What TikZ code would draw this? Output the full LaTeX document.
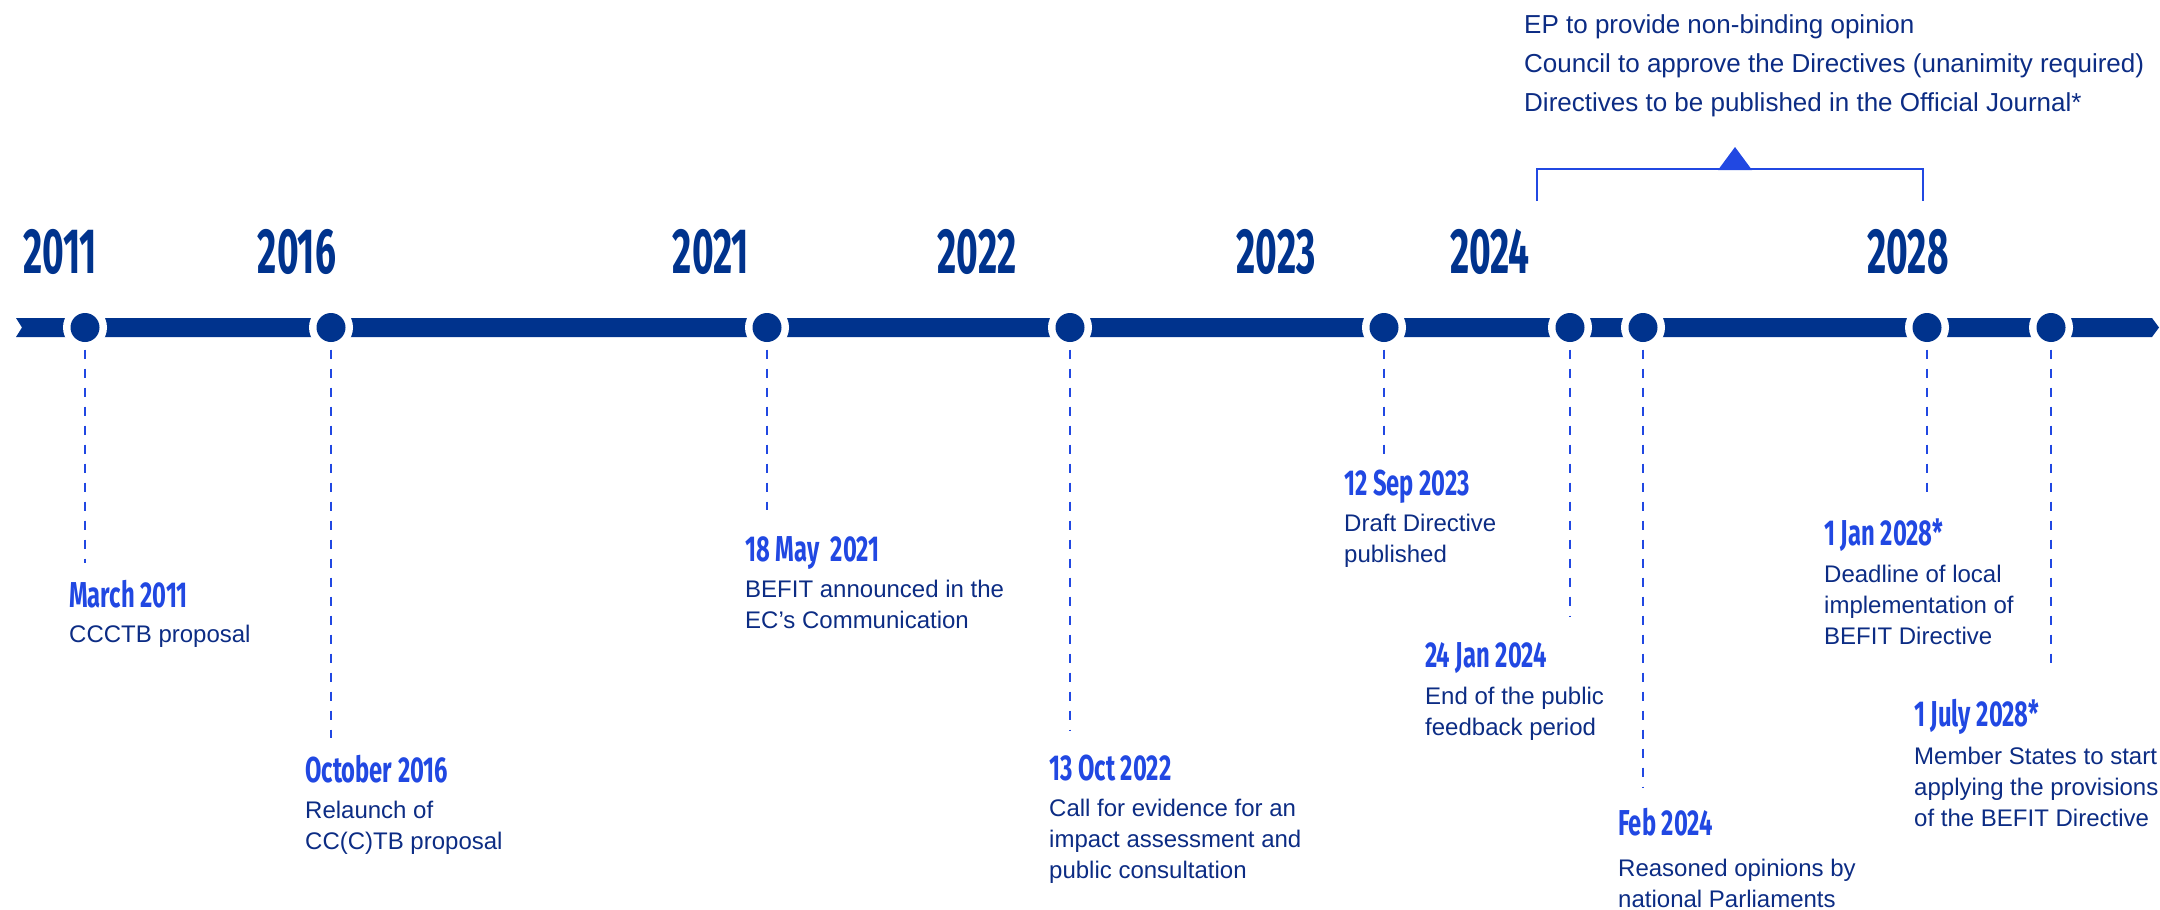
\documentclass[tikz,border=0pt]{standalone}
\usepackage{fontspec}
\setmainfont{Liberation Sans}
\newfontfamily\condfont[FakeStretch=0.58]{Fira Sans}
\newfontfamily\datecondfont[FakeStretch=0.66]{Fira Sans}
\newcommand\yearfont{\condfont\bfseries\fontsize{64}{64}\selectfont}
\newcommand\datefont{\datecondfont\bfseries\fontsize{36}{36}\selectfont}
\newcommand\descfont{\fontsize{24}{31}\selectfont}
\newcommand\topfont{\fontsize{26}{39}\selectfont}
\definecolor{navy}{RGB}{0,51,141}
\definecolor{brightblue}{RGB}{33,72,226}
\definecolor{textnavy}{RGB}{12,44,132}
\begin{document}
\begin{tikzpicture}[x=1pt,y=-1pt,
  ring/.style={circle, fill=white, minimum size=44pt, inner sep=0pt},
  dot/.style={circle, fill=navy, minimum size=29pt, inner sep=0pt},
  yearlbl/.style={font=\yearfont, text=navy, anchor=base, inner sep=0pt},
  datelbl/.style={font=\datefont, text=brightblue, anchor=base west, inner sep=0pt},
  % multi-line nodes: the base anchor sits on the last line
  desc/.style={font=\descfont, text=textnavy, anchor=base west, align=left, inner sep=0pt},
  lead/.style={draw=brightblue, line width=2.5pt, dash pattern=on 9pt off 10pt},
  notes/.style={font=\topfont, text=textnavy, anchor=base west, align=left, inner sep=0pt},
  bracket/.style={draw=brightblue, line width=2.5pt},
]
\useasboundingbox (0,0) rectangle (2160,910);

% timeline bar with notched tail and pointed head
\fill[navy] (16,318) -- (2152,318) -- (2159,327.5) -- (2152,337) -- (16,337) -- (22,327.5) -- cycle;

% year labels
\node[yearlbl] (y2011) at (60,273) {2011};
\node[yearlbl] (y2016) at (297,273) {2016};
\node[yearlbl] (y2021) at (711,273) {2021};
\node[yearlbl] (y2022) at (977,273) {2022};
\node[yearlbl] (y2023) at (1276,273) {2023};
\node[yearlbl] (y2024) at (1490,273) {2024};
\node[yearlbl] (y2028) at (1908,273) {2028};

% milestone markers: white halo cut into the bar, then the dot
\foreach \n/\x in {1/85,2/331,3/767,4/1070,5/1384,6/1570,7/1643,8/1927,9/2051}{
  \node[ring] (r\n) at (\x,327.5) {};
  \node[dot] (e\n) at (\x,327.5) {};
}

% free ends of the leader lines
\coordinate (d1) at (85,563);
\coordinate (d2) at (331,738);
\coordinate (d3) at (767,510);
\coordinate (d4) at (1070,730);
\coordinate (d5) at (1384,454);
\coordinate (d6) at (1570,616);
\coordinate (d7) at (1643,787);
\coordinate (d8) at (1927,494);
\coordinate (d9) at (2051,671);
\foreach \n in {1,...,9}{ \draw[lead] (r\n.south) -- (d\n); }

% milestone texts
\node[datelbl] (h1) at (69,607) {March 2011};
\node[desc] (t1) at (69,642) {CCCTB proposal};

\node[datelbl] (h2) at (305,782) {October 2016};
\node[desc] (t2) at (305,849) {Relaunch of\\CC(C)TB proposal};

\node[datelbl] (h3) at (745,561) {18 May\hspace{6pt} 2021};
\node[desc] (t3) at (745,628) {BEFIT announced in the\\EC’s Communication};

\node[datelbl] (h4) at (1049,780) {13 Oct 2022};
\node[desc] (t4) at (1049,878) {Call for evidence for an\\impact assessment and\\public consultation};

\node[datelbl] (h5) at (1344,495) {12 Sep 2023};
\node[desc] (t5) at (1344,562) {Draft Directive\\published};

\node[datelbl] (h6) at (1425,667) {24 Jan 2024};
\node[desc] (t6) at (1425,735) {End of the public\\feedback period};

\node[datelbl] (h7) at (1618,835) {Feb 2024};
\node[desc] (t7) at (1618,907) {Reasoned opinions by\\national Parliaments};

\node[datelbl] (h8) at (1824,545) {1 Jan 2028*};
\node[desc] (t8) at (1824,644) {Deadline of local\\implementation of\\BEFIT Directive};

\node[datelbl] (h9) at (1914,726) {1 July 2028*};
\node[desc] (t9) at (1914,826) {Member States to start\\applying the provisions\\of the BEFIT Directive};

% legislative steps above the bracket
\node[notes] (steps) at (1524,111) {EP to provide non-binding opinion\\Council to approve the Directives (unanimity required)\\Directives to be published in the Official Journal*};
\draw[bracket] (1537,201) -- (1537,169) -- (1923,169) -- (1923,201);
\fill[brightblue] (1718,170) -- (1735,147) -- (1752,170) -- cycle;
\end{tikzpicture}
\end{document}
